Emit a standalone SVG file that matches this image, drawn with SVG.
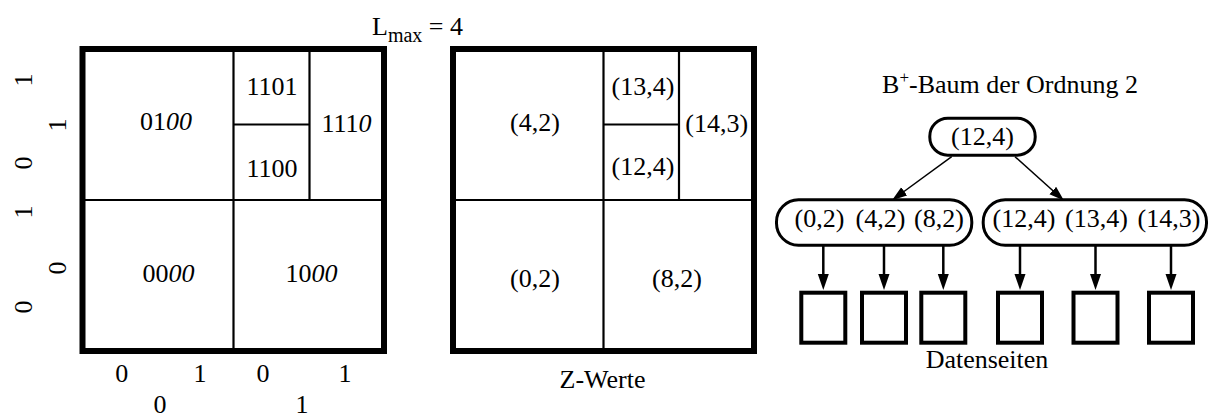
<svg xmlns="http://www.w3.org/2000/svg" width="1213" height="417" viewBox="0 0 1213 417">
  <style>
    text { font-family: 'Liberation Serif', serif; fill: #000; }
    .mid { text-anchor: middle; }
    .frame { fill: none; stroke: #000; stroke-width: 6; }
    .split { fill: none; stroke: #000; stroke-width: 2.2; }
    .node { fill: #fff; stroke: #000; stroke-width: 3; }
    .page { fill: #fff; stroke: #000; stroke-width: 4; }
    .edge { fill: none; stroke: #000; stroke-width: 1.5; marker-end: url(#headSmall); }
    .ptr { fill: none; stroke: #000; stroke-width: 2.5; marker-end: url(#headBig); }
    .it { font-style: italic; }
  </style>
  <defs>
    <marker id="headSmall" markerUnits="userSpaceOnUse" markerWidth="16" markerHeight="11" refX="7" refY="5" orient="auto">
      <path d="M0,0 L15,5 L0,10 z" fill="#000"/>
    </marker>
    <marker id="headBig" markerUnits="userSpaceOnUse" markerWidth="17" markerHeight="12" refX="8" refY="5.5" orient="auto">
      <path d="M0,0 L16,5.5 L0,11 z" fill="#000"/>
    </marker>
  </defs>

  <!-- title of both grids -->
  <text id="lmax" x="372" y="35" font-size="26">L<tspan font-size="20" dy="7">max</tspan><tspan dy="-7"> = 4</tspan></text>

  <!-- left grid: bit strings of the cells -->
  <g id="gridBits">
    <rect class="frame" x="82.5" y="49" width="301.5" height="302"/>
    <line class="split" x1="233.5" y1="49" x2="233.5" y2="351"/>
    <line class="split" x1="82.5" y1="200" x2="384" y2="200"/>
    <line class="split" x1="309.5" y1="49" x2="309.5" y2="200"/>
    <line class="split" x1="233.5" y1="124.5" x2="309.5" y2="124.5"/>
    <text class="mid" x="166" y="130" font-size="26">01<tspan class="it">00</tspan></text>
    <text class="mid" x="272" y="95" font-size="26">1101</text>
    <text class="mid" x="272" y="177" font-size="26">1100</text>
    <text class="mid" x="346.5" y="132" font-size="26">111<tspan class="it">0</tspan></text>
    <text class="mid" x="168.5" y="282" font-size="26">00<tspan class="it">00</tspan></text>
    <text class="mid" x="311.5" y="282" font-size="26">10<tspan class="it">00</tspan></text>
  </g>

  <!-- axis bits -->
  <g id="axisX">
    <text class="mid" x="121.7" y="381.5" font-size="26">0</text>
    <text class="mid" x="200" y="381.5" font-size="26">1</text>
    <text class="mid" x="263" y="381.5" font-size="26">0</text>
    <text class="mid" x="345" y="381.5" font-size="26">1</text>
    <text class="mid" x="160" y="413" font-size="26">0</text>
    <text class="mid" x="302" y="413" font-size="26">1</text>
  </g>
  <g id="axisY">
    <text class="mid" font-size="26" transform="translate(32,80) rotate(-90)">1</text>
    <text class="mid" font-size="26" transform="translate(32,163) rotate(-90)">0</text>
    <text class="mid" font-size="26" transform="translate(32,212) rotate(-90)">1</text>
    <text class="mid" font-size="26" transform="translate(32,307) rotate(-90)">0</text>
    <text class="mid" font-size="26" transform="translate(66,125) rotate(-90)">1</text>
    <text class="mid" font-size="26" transform="translate(66,268) rotate(-90)">0</text>
  </g>

  <!-- right grid: Z values of the cells -->
  <g id="gridZ">
    <rect class="frame" x="453" y="49" width="301" height="302"/>
    <line class="split" x1="603.5" y1="49" x2="603.5" y2="351"/>
    <line class="split" x1="453" y1="200" x2="754" y2="200"/>
    <line class="split" x1="679" y1="49" x2="679" y2="200"/>
    <line class="split" x1="603.5" y1="124.5" x2="679" y2="124.5"/>
    <text class="mid" x="535" y="131" font-size="26">(4,2)</text>
    <text class="mid" x="643" y="95" font-size="26">(13,4)</text>
    <text class="mid" x="643" y="175" font-size="26">(12,4)</text>
    <text class="mid" x="716.7" y="132" font-size="26">(14,3)</text>
    <text class="mid" x="535" y="287" font-size="26">(0,2)</text>
    <text class="mid" x="677" y="287" font-size="26">(8,2)</text>
  </g>
  <text id="zLabel" class="mid" x="602.5" y="388" font-size="26">Z-Werte</text>

  <!-- B+ tree -->
  <text id="treeTitle" class="mid" x="1010" y="93" font-size="26">B<tspan font-size="17" dy="-10">+</tspan><tspan dy="10">-Baum der Ordnung 2</tspan></text>

  <g id="connectors">
    <line class="edge" x1="951.7" y1="156.7" x2="898.5" y2="195.5"/>
    <line class="edge" x1="1015" y1="156.7" x2="1058" y2="195.2"/>
    <line class="ptr" x1="823.3" y1="238" x2="823.3" y2="282"/>
    <line class="ptr" x1="884" y1="238" x2="884" y2="282"/>
    <line class="ptr" x1="943.3" y1="238" x2="943.3" y2="282"/>
    <line class="ptr" x1="1020" y1="238" x2="1020" y2="282"/>
    <line class="ptr" x1="1095.5" y1="238" x2="1095.5" y2="282"/>
    <line class="ptr" x1="1171" y1="238" x2="1171" y2="282"/>
  </g>

  <g id="root">
    <rect class="node" x="929.8" y="118.2" width="105.4" height="37" rx="18"/>
    <text class="mid" x="982.5" y="145" font-size="26">(12,4)</text>
  </g>
  <g id="leafLeft">
    <rect class="node" x="776.5" y="199.8" width="195.3" height="45.4" rx="22"/>
    <text class="mid" y="227" font-size="26"><tspan x="819.5">(0,2)</tspan><tspan x="880.5">(4,2)</tspan><tspan x="939">(8,2)</tspan></text>
  </g>
  <g id="leafRight">
    <rect class="node" x="983.2" y="199.8" width="223.3" height="45.4" rx="22"/>
    <text class="mid" y="227" font-size="26"><tspan x="1024">(12,4)</tspan><tspan x="1096.5">(13,4)</tspan><tspan x="1169">(14,3)</tspan></text>
  </g>

  <!-- data pages -->
  <g id="pages">
    <rect class="page" x="801.3" y="292.7" width="44" height="50"/>
    <rect class="page" x="862" y="292.7" width="44" height="50"/>
    <rect class="page" x="921.3" y="292.7" width="44" height="50"/>
    <rect class="page" x="998" y="292.7" width="44" height="50"/>
    <rect class="page" x="1073.5" y="292.7" width="44" height="50"/>
    <rect class="page" x="1149" y="292.7" width="44" height="50"/>
  </g>
  <text id="pagesLabel" class="mid" x="987" y="368" font-size="26">Datenseiten</text>
</svg>
